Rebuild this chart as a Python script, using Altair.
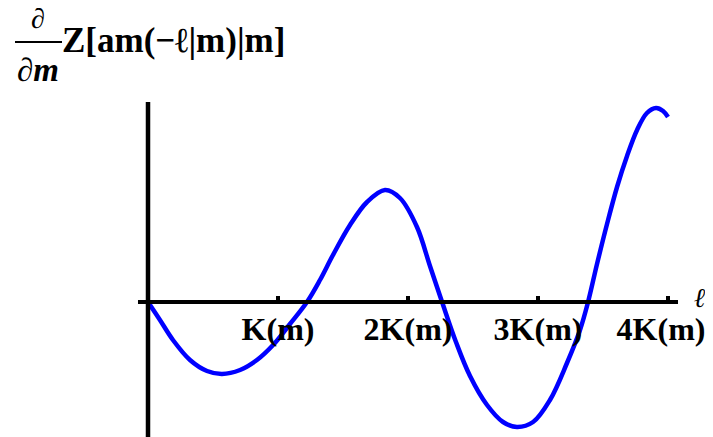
import altair as alt
import pandas as pd

# curve samples (x in units of K(m), y in arbitrary units)
ell = [0, 0.092, 0.192, 0.323, 0.454, 0.569, 0.708, 0.838, 0.962, 1.092, 1.223,
       1.323, 1.423, 1.554, 1.685, 1.823, 1.938, 2.069, 2.169, 2.262, 2.369,
       2.477, 2.608, 2.731, 2.838, 2.962, 3.092, 3.223, 3.323, 3.385, 3.454,
       3.531, 3.608, 3.685, 3.762, 3.838, 3.908, 3.962, 4.0]
dz = [0, -18, -38, -58, -69, -72, -68, -58, -43, -22, 0,
      22, 47, 77, 100, 112, 104, 75, 36, 0, -40,
      -74, -103, -120, -125, -120, -98, -61, -28, 0, 38,
      78, 115, 146, 172, 189, 194, 191, 185]

tick_vals = [1, 2, 3, 4]
tick_labels = ["K(m)", "2K(m)", "3K(m)", "4K(m)"]

x_axis_span = [-0.077, 4.077]
y_axis_span = [-140, 200]

W, H = 697, 429
XDOM = [(8 - 148) / 130, (705 - 148) / 130]
YDOM = [302 - 437, 302 - 8]

FONT = "Liberation Serif"

xs = alt.Scale(domain=XDOM, nice=False, zero=False)
ys = alt.Scale(domain=YDOM, nice=False, zero=False)

curve_df = pd.DataFrame({"l": ell, "v": dz})
ticks_df = pd.DataFrame({"l": tick_vals, "lab": tick_labels, "y0": [0] * 4, "y1": [6] * 4})
xax_df = pd.DataFrame({"l": [x_axis_span[0]], "l2": [x_axis_span[1]], "v": [0]})
yax_df = pd.DataFrame({"l": [0], "v": [y_axis_span[0]], "v2": [y_axis_span[1]]})

X = lambda f: alt.X(f, type="quantitative", scale=xs, axis=None)
Y = lambda f: alt.Y(f, type="quantitative", scale=ys, axis=None)

xaxis = alt.Chart(xax_df).mark_rule(color="black", strokeWidth=4).encode(
    x=X("l"), x2="l2", y=Y("v"))
yaxis = alt.Chart(yax_df).mark_rule(color="black", strokeWidth=4.5).encode(
    x=X("l"), y=Y("v"), y2="v2")
ticks = alt.Chart(ticks_df).mark_rule(color="black", strokeWidth=4).encode(
    x=X("l"), y=Y("y0"), y2="y1")

lab_base = alt.Chart(ticks_df)
labels = lab_base.transform_filter(alt.datum.l < 4).mark_text(
    font=FONT, fontWeight="bold", fontSize=32, color="black",
    align="center", baseline="alphabetic").encode(
    x=X("l"), y=alt.value(332), text="lab:N")
# last label nudged left so it stays inside the page
labels_last = lab_base.transform_filter(alt.datum.l >= 4).mark_text(
    font=FONT, fontWeight="bold", fontSize=32, color="black",
    align="center", baseline="alphabetic", dx=-7).encode(
    x=X("l"), y=alt.value(332), text="lab:N")

curve = alt.Chart(curve_df).mark_line(
    color="#0000FF", strokeWidth=4.5, interpolate="catmull-rom", strokeCap="butt").encode(
    x=X("l"), y=Y("v"))

txt = pd.DataFrame({"t": ["ℓ"]})
ell_lab = alt.Chart(txt).mark_text(
    font="DejaVu Serif", fontWeight="bold", fontStyle="italic", fontSize=27, color="black",
    align="center", baseline="alphabetic").encode(
    x=alt.value(692), y=alt.value(299), text="t:N")

num = alt.Chart(pd.DataFrame({"t": ["∂"]})).mark_text(
    font=FONT, fontWeight="bold", fontStyle="italic", fontSize=28, color="black",
    align="center", baseline="alphabetic").encode(
    x=alt.value(30), y=alt.value(20), text="t:N")
den = alt.Chart(pd.DataFrame({"t": ["∂m"]})).mark_text(
    font=FONT, fontWeight="bold", fontStyle="italic", fontSize=33, color="black",
    align="center", baseline="alphabetic").encode(
    x=alt.value(30), y=alt.value(73), text="t:N")
bar = alt.Chart(pd.DataFrame({"t": [0]})).mark_rule(color="black", strokeWidth=2).encode(
    x=alt.value(7), x2=alt.value(54), y=alt.value(34))
zt = alt.Chart(pd.DataFrame({"t": ["Z[am(−ℓ|m)|m]"]})).mark_text(
    font=FONT, fontWeight="bold", fontSize=35, color="black",
    align="left", baseline="alphabetic").encode(
    x=alt.value(54), y=alt.value(44), text="t:N")

chart = alt.layer(curve, xaxis, yaxis, ticks, labels, labels_last, ell_lab,
                  num, den, bar, zt).properties(
    width=W, height=H, padding=0, autosize=alt.AutoSizeParams(type="none")
).configure_view(stroke=None)

chart.save("out.html", embed_options={"renderer": "svg", "actions": False})
